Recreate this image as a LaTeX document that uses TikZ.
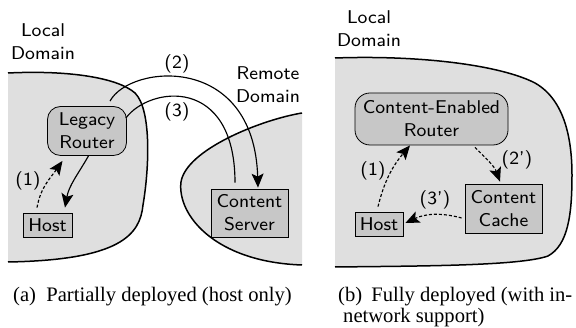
\documentclass[tikz,border=0pt]{standalone}
\usepackage{fontspec}
\setsansfont{lmsans8-regular.otf}
\newfontfamily\capfont{Liberation Serif}
\usetikzlibrary{arrows.meta}
\newcommand\lblfont{\sffamily\fontsize{18.5}{23}\selectfont}
\newcommand\capsize{\capfont\fontsize{20.6}{21}\selectfont}
\tikzset{
  blobfill/.style={fill=gray!25, draw=none},
  blobline/.style={line width=1.5pt},
  box/.style={draw, line width=0.8pt, fill=black!22, font=\lblfont, align=center, inner sep=0pt},
  rbox/.style={box, rounded corners=13pt},
  lab/.style={font=\lblfont, inner sep=0pt, align=center},
  conn/.style={line width=1.15pt},
  arr/.style={conn, -{Stealth[length=14pt,width=12pt,inset=3pt]}},
  darr/.style={arr, dash pattern=on 3pt off 2pt},
  captext/.style={font=\capsize, anchor=base west, inner sep=0pt, align=left}
}
\begin{document}
\begin{tikzpicture}[x=1pt,y=1pt]
\useasboundingbox (0,0) rectangle (576,328);
% local domain (a)
\fill[blobfill] (8,255) .. controls (70,258) and (118,250) .. (135,235) .. controls (152,218) and (149,158) .. (143,123) .. controls (140,93) and (120,68) .. (8,66) -- cycle;
\draw[blobline] (8,255) .. controls (70,258) and (118,250) .. (135,235) .. controls (152,218) and (149,158) .. (143,123) .. controls (140,93) and (120,68) .. (8,66);
% remote domain (a)
\fill[blobfill] (302,215) .. controls (260,208) and (186,178) .. (181,146) .. controls (177,113) and (215,66) .. (302,63) -- cycle;
\draw[blobline] (302,215) .. controls (260,208) and (186,178) .. (181,146) .. controls (177,113) and (215,66) .. (302,63);
% local domain (b)
\fill[blobfill] (335,270) .. controls (420,273) and (500,263) .. (535,245) .. controls (565,228) and (572,188) .. (572,153) .. controls (572,113) and (568,83) .. (548,72) .. controls (520,62) and (420,62) .. (335,61) -- cycle;
\draw[blobline] (335,270) .. controls (420,273) and (500,263) .. (535,245) .. controls (565,228) and (572,188) .. (572,153) .. controls (572,113) and (568,83) .. (548,72) .. controls (520,62) and (420,62) .. (335,61);

% nodes (a)
\node[rbox, minimum width=79pt, minimum height=49pt] (routerA) at (87,197) {Legacy\\Router};
\node[box, minimum width=49pt, minimum height=24pt] (hostA) at (47.5,103) {Host};
\node[box, minimum width=77pt, minimum height=48pt] (serverA) at (249.5,115) {Content\\Server};
% nodes (b)
\node[rbox, rounded corners=15pt, minimum width=153pt, minimum height=52pt] (routerB) at (431.5,209) {Content-Enabled\\Router};
\node[box, minimum width=48pt, minimum height=24pt] (hostB) at (379,104) {Host};
\node[box, minimum width=77pt, minimum height=49pt] (cacheB) at (503.5,119.5) {Content\\Cache};

% labels
\node[lab] (domA) at (43,286) {Local\\Domain};
\node[lab] (domR) at (268,243) {Remote\\Domain};
\node[lab] (domB) at (369,299) {Local\\Domain};
\node[lab] (l1a) at (28,147) {(1)};
\node[lab] (l2a) at (177,264) {(2)};
\node[lab] (l3a) at (177,216) {(3)};
\node[lab] (l1b) at (373,157) {(1)};
\node[lab] (l2b) at (517,168) {(2')};
\node[lab] (l3b) at (435,128) {(3')};

% connectors (a)
\draw[darr] ([xshift=-10.5pt,yshift=5pt]hostA.north) to[out=80,in=235] ([xshift=-24.5pt,yshift=-5pt]routerA.south);
\draw[arr] ([xshift=1.5pt]routerA.south) to[out=240,in=80] ([xshift=17.5pt,yshift=5pt]hostA.north);
\draw[arr] ([xshift=23pt,yshift=5pt]routerA.north) .. controls +(20,37) and +(-4,135) .. ([xshift=8.5pt,yshift=1pt]serverA.north);
\draw[conn] ([xshift=-1pt,yshift=13pt]routerA.east) .. controls +(24,32) and +(0,107) .. ([xshift=-14.5pt,yshift=6pt]serverA.north);
% connectors (b)
\draw[darr] ([xshift=-1pt,yshift=5pt]hostB.north) to[out=76,in=230] ([xshift=-21.5pt]routerB.south);
\draw[darr] ([xshift=43.5pt,yshift=-2pt]routerB.south) to[out=-45,in=110] ([xshift=-3.5pt,yshift=2pt]cacheB.north);
\draw[darr] ([xshift=-3pt,yshift=-9.5pt]cacheB.west) to[out=165,in=25] ([xshift=2pt,yshift=1pt]hostB.east);

% captions
\node[captext] (capA) at (13,26) {(a)\hspace{0.5em}Partially deployed (host only)};
\node[captext] (capB) at (338,5) {(b)\hspace{0.45em}Fully deployed (with in-\\\hspace*{5pt}network support)};
\end{tikzpicture}
\end{document}
